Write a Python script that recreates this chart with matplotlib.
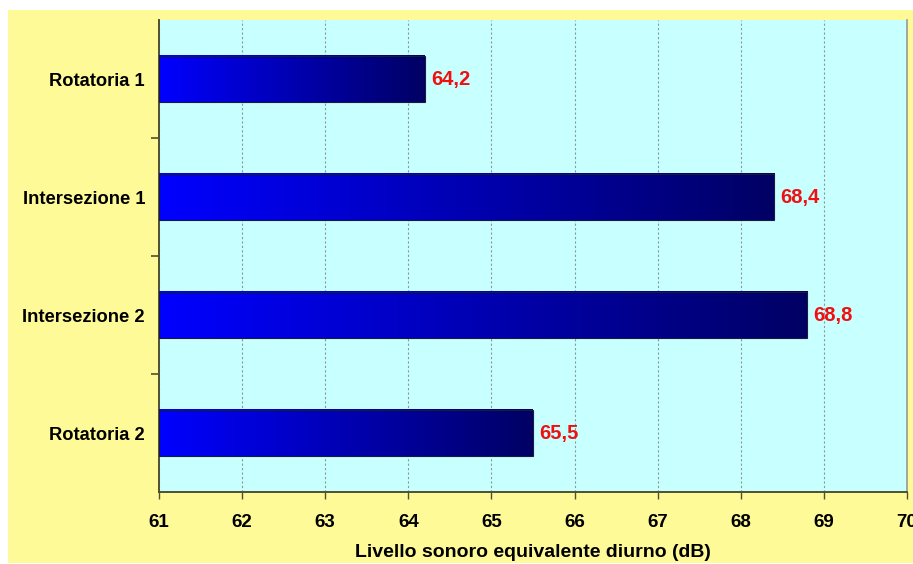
import matplotlib.pyplot as plt
import matplotlib.patches as patches
import numpy as np
from matplotlib.colors import LinearSegmentedColormap

# categorie e livelli sonori (dB)
postazioni = ['Rotatoria 1', 'Intersezione 1', 'Intersezione 2', 'Rotatoria 2']
livelli = [64.2, 68.4, 68.8, 65.5]
etichette = ['64,2', '68,4', '68,8', '65,5']

x_min, x_max = 61, 70
altezza = 0.39

plt.rcParams['font.family'] = ['Liberation Sans', 'DejaVu Sans']

fig = plt.figure(figsize=(9.13, 5.64), dpi=100)
fig.patch.set_facecolor('white')
# sfondo giallo del grafico
fig.patches.append(patches.Rectangle((8 / 913, 1 / 564), 1 - 8 / 913, 553 / 564,
                                     transform=fig.transFigure, facecolor='#FFFA98',
                                     edgecolor='none', zorder=-10))

ax = fig.add_axes([159 / 913, 1 - 492 / 564, 748 / 913, 472 / 564])
ax.set_facecolor('#C8FFFF')

# sfumatura blu -> blu scuro per ogni barra
cmap = LinearSegmentedColormap.from_list('blu', ['#0000FF', '#000064'])
grad = np.linspace(0, 1, 256).reshape(1, -1)
y = np.arange(len(postazioni))
for yi, v, lab in zip(y, livelli, etichette):
    ax.imshow(grad, cmap=cmap, aspect='auto', zorder=3,
              extent=(x_min, v, yi + altezza / 2, yi - altezza / 2))
    ax.add_patch(patches.Rectangle((x_min, yi - altezza / 2), v - x_min, altezza,
                                   fill=False, edgecolor='#1a1a40', lw=0.8, zorder=4))
    ax.text(v + 0.07, yi, lab, color='#F01010', fontsize=14.5, fontweight='bold',
            va='center', ha='left', zorder=5)

ax.set_xlim(x_min, x_max)
ax.set_ylim(len(postazioni) - 0.5, -0.5)

ax.set_xticks(np.arange(x_min, x_max + 1))
ax.set_yticks(y)
ax.set_yticklabels(postazioni, fontsize=13.2, fontweight='bold')
ax.set_yticks(y[:-1] + 0.5, minor=True)
ax.tick_params(axis='y', which='major', length=0, pad=10)
ax.tick_params(axis='y', which='minor', length=6, width=1.2, color='#505030')
ax.tick_params(axis='x', length=5, width=1, color='#505030', labelsize=13.5, pad=11)
for t in ax.get_xticklabels():
    t.set_fontweight('bold')

ax.grid(axis='x', color='#8a9a9a', linestyle=(0, (2, 2)), lw=0.8, zorder=1)
ax.set_axisbelow(True)

for s in ['left', 'bottom']:
    ax.spines[s].set_color('#505030')
    ax.spines[s].set_linewidth(1.4)
ax.spines['right'].set_color('#9a9a90')
ax.spines['right'].set_linewidth(1.2)
ax.spines['top'].set_visible(False)

ax.set_xlabel('Livello sonoro equivalente diurno (dB)', fontsize=14,
              fontweight='bold', labelpad=9)

fig.savefig('out.png', dpi=100)
